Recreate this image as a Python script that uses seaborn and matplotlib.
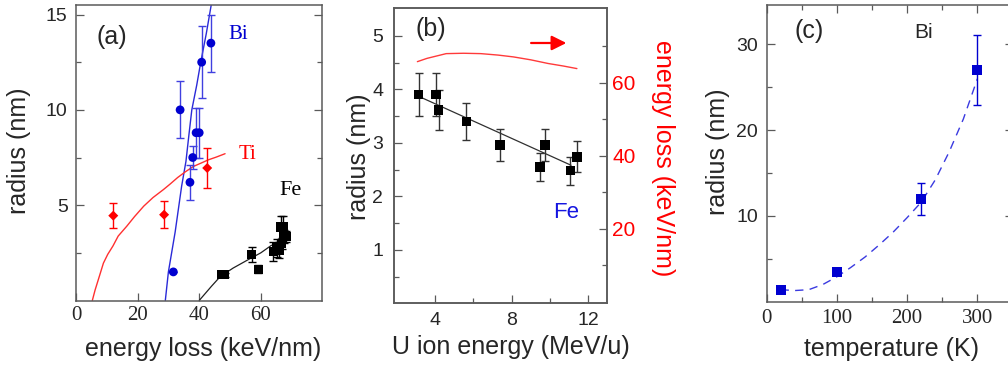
import matplotlib
matplotlib.use("Agg")
import matplotlib.pyplot as plt
import seaborn as sns

# ---------------- (a) track radius vs electronic energy loss ----------------
bi_loss = [31.6, 33.8, 37.0, 37.9, 39.0, 40.0, 40.8, 43.8]
bi_radius = [1.5, 10.0, 6.2, 7.5, 8.8, 8.8, 12.5, 13.5]
bi_err = [0.0, 1.5, 0.93, 0.6, 1.3, 1.3, 1.9, 1.5]
bi_fit_loss = [29.0, 30.0, 32.2, 34.3, 35.7, 36.6, 37.6, 39.2, 40.5, 42.3, 43.9]
bi_fit_radius = [0.0, 1.5, 3.6, 6.0, 7.3, 8.6, 10.0, 11.3, 12.5, 14.0, 15.5]

ti_loss = [12.1, 28.6, 42.6]
ti_radius = [4.45, 4.5, 6.95]
ti_err = [0.65, 0.7, 1.05]
ti_fit_loss = [5.3, 6.2, 7.2, 8.9, 10.3, 12.0, 13.7, 16.5, 19.0, 22.0, 25.0, 28.4,
               30.5, 33.0, 35.5, 38.1, 40.5, 43.0, 45.5, 48.4]
ti_fit_radius = [0.0, 0.55, 1.07, 1.96, 2.42, 2.86, 3.38, 3.9, 4.4, 4.95, 5.4, 5.82,
                 6.1, 6.45, 6.75, 7.03, 7.2, 7.38, 7.52, 7.7]

fe_loss = [47.2, 48.3, 57.0, 59.2, 64.1, 65.1, 66.0, 66.5, 67.2, 66.8, 67.5, 68.2]
fe_radius = [1.35, 1.35, 2.4, 1.64, 2.57, 2.75, 2.65, 3.85, 3.85, 3.0, 3.37, 3.35]
fe_err = [0.1, 0.1, 0.4, 0.2, 0.5, 0.45, 0.4, 0.6, 0.6, 0.3, 0.35, 0.3]
fe_fit_loss = [40.0, 44.0, 46.8, 51.0, 56.0, 60.0, 63.5]
fe_fit_radius = [0.0, 0.75, 1.25, 1.7, 2.15, 2.5, 2.9]

# ---------------- (b) Fe radius vs U ion energy ----------------
u_energy = [3.16, 4.08, 4.2, 5.65, 7.4, 9.48, 9.74, 11.06, 11.4]
fe_u_radius = [3.9, 3.9, 3.61, 3.4, 2.96, 2.55, 2.96, 2.48, 2.74]
fe_u_err = [0.4, 0.4, 0.37, 0.35, 0.3, 0.26, 0.3, 0.26, 0.29]
fe_u_fit_energy = [3.1, 11.1]
fe_u_fit_radius = [3.88, 2.58]
loss_energy = [3.1, 3.6, 4.6, 5.5, 6.4, 7.3, 8.1, 9.0, 9.9, 10.7, 11.4]
loss_value = [65.8, 66.7, 68.0, 68.1, 68.0, 67.6, 67.1, 66.3, 65.3, 64.6, 63.9]

# ---------------- (c) Bi radius vs irradiation temperature ----------------
temperature = [20, 100, 220, 300]
bi_t_radius = [1.4, 3.5, 12.0, 27.0]
bi_t_err = [0.0, 0.4, 1.85, 4.1]
bi_t_fit_temp = [20, 40, 60, 80, 100, 120, 140, 160, 180, 200, 220, 240, 260, 280, 300]
bi_t_fit_radius = [1.4, 1.3, 1.4, 2.0, 2.9, 4.0, 5.2, 6.6, 8.1, 9.8, 11.6, 14.2, 17.5, 21.3, 26.0]

sns.set_style("ticks")
plt.rcParams["font.family"] = ["Liberation Sans", "DejaVu Sans"]
plt.rcParams["xtick.direction"] = "in"
plt.rcParams["ytick.direction"] = "in"

SERIF = "Liberation Serif"
SPINE = "#5a5a5a"
BLUE = "#0000d0"
RED = "#ff0000"

W, H = 1008, 368
fig = plt.figure(figsize=(W / 100, H / 100), dpi=100)


def axes_px(left, top, right, bottom):
    return fig.add_axes([left / W, 1 - bottom / H, (right - left) / W, (bottom - top) / H])


def style_axes(ax):
    for s in ax.spines.values():
        s.set_color(SPINE)
        s.set_linewidth(1.1)
    ax.tick_params(which="major", length=6, width=0.9, color=SPINE, labelsize=14)
    ax.tick_params(which="minor", length=3.8, width=0.9, color=SPINE)


def place_labels(ax, xpos, ypos):
    fx, fy = xpos[0] / W, 1 - xpos[1] / H
    ax.xaxis.set_label_coords(fx, fy, transform=fig.transFigure)
    ax.xaxis.label.set_va("center")
    gx, gy = ypos[0] / W, 1 - ypos[1] / H
    ax.yaxis.set_label_coords(gx, gy, transform=fig.transFigure)
    ax.yaxis.label.set_va("center")


def err(ax, x, y, e, color):
    ax.errorbar(x, y, yerr=e, fmt="none", ecolor=color, elinewidth=1.0,
                capsize=3.2, capthick=1.0, zorder=2)


# ---------------- panel (a) ----------------
axA = axes_px(76, 5, 322.4, 300.5)
sns.lineplot(x=bi_fit_loss, y=bi_fit_radius, ax=axA, color="#2a2ad8", linewidth=1.0,
             sort=False, estimator=None)
sns.lineplot(x=ti_fit_loss, y=ti_fit_radius, ax=axA, color="#ff3030", linewidth=1.0,
             sort=False, estimator=None)
sns.lineplot(x=fe_fit_loss, y=fe_fit_radius, ax=axA, color="#202020", linewidth=0.9,
             sort=False, estimator=None)
err(axA, bi_loss, bi_radius, bi_err, "#4040e0")
err(axA, ti_loss, ti_radius, ti_err, RED)
err(axA, fe_loss, fe_radius, fe_err, "black")
sns.scatterplot(x=bi_loss, y=bi_radius, ax=axA, marker="o", s=40, color=BLUE,
                edgecolor="none", zorder=3)
sns.scatterplot(x=ti_loss, y=ti_radius, ax=axA, marker="D", s=26, color=RED,
                edgecolor="none", zorder=3)
sns.scatterplot(x=fe_loss, y=fe_radius, ax=axA, marker="s", s=44, color="black",
                edgecolor="none", zorder=3)
axA.set_xlim(0, 80)
axA.set_ylim(0, 15.5)
axA.set_xticks([0, 20, 40, 60])
axA.set_yticks([5, 10, 15])
axA.set_yticks([2.5, 7.5, 12.5], minor=True)
style_axes(axA)
axA.tick_params(axis="y", which="both", right=True, pad=6)
axA.tick_params(axis="x", labelfontfamily=SERIF, labelsize=15, pad=4)
axA.set_xlabel("energy loss (keV/nm)", fontsize=18)
axA.set_ylabel("radius (nm)", fontsize=18)
place_labels(axA, (203, 349), (19, 151))
axA.text(6.8, 13.8, "(a)", fontsize=18, ha="left", va="center")
axA.text(52.6, 13.96, "Bi", fontsize=15, family=SERIF, color=BLUE, ha="center", va="center")
axA.text(55.6, 7.65, "Ti", fontsize=15, family=SERIF, color=RED, ha="center", va="center")
axA.text(69.5, 5.77, "Fe", fontsize=16, family=SERIF, color="black", ha="center", va="center")

# ---------------- panel (b) ----------------
axB = axes_px(394.3, 8, 606.7, 303.3)
sns.lineplot(x=fe_u_fit_energy, y=fe_u_fit_radius, ax=axB, color="#303030", linewidth=0.9,
             sort=False, estimator=None)
err(axB, u_energy, fe_u_radius, fe_u_err, "#333333")
sns.scatterplot(x=u_energy, y=fe_u_radius, ax=axB, marker="s", s=48, color="black",
                edgecolor="none", zorder=3)
axB.set_xlim(1.9, 12.95)
axB.set_ylim(0, 5.52)
axB.set_xticks([4, 8, 12])
axB.set_xticks([6, 10], minor=True)
axB.set_yticks([1, 2, 3, 4, 5])
axB.set_yticks([0.5, 1.5, 2.5, 3.5, 4.5], minor=True)
style_axes(axB)
axB.tick_params(axis="y", pad=8)
axB.tick_params(axis="x", pad=6)
axB.set_xlabel("U ion energy (MeV/u)", fontsize=18)
axB.set_ylabel("radius (nm)", fontsize=18)
place_labels(axB, (511, 347), (359, 157))
axB.text(2.98, 5.13, "(b)", fontsize=18, ha="left", va="center")
axB.text(10.84, 1.69, "Fe", fontsize=16, color="#1515e0", ha="center", va="center")

axB2 = axB.twinx()
sns.lineplot(x=loss_energy, y=loss_value, ax=axB2, color="#ff3a3a", linewidth=1.0,
             sort=False, estimator=None)
axB2.set_ylim(-0.4, 80.5)
axB2.set_yticks([20, 40, 60])
axB2.set_yticks([10, 30, 50, 70], minor=True)
style_axes(axB2)
axB2.tick_params(axis="y", which="both", labelcolor=RED, pad=4)
axB2.tick_params(axis="y", labelsize=15)
axB2.set_ylabel("energy loss (keV/nm)", fontsize=18, color=RED, rotation=270)
axB2.yaxis.set_label_coords(663 / W, 1 - 158 / H, transform=fig.transFigure)
axB2.yaxis.label.set_va("center")
axB2.annotate("", xy=(0.81, 0.8815), xytext=(0.644, 0.8815),
              xycoords="axes fraction", textcoords="axes fraction",
              arrowprops=dict(arrowstyle="-|>", color=RED, lw=1.6, mutation_scale=22,
                              shrinkA=0, shrinkB=0))

# ---------------- panel (c) ----------------
axC = axes_px(766.5, 5, 766.5 + 350 * 0.703, 301.7)
sns.lineplot(x=bi_t_fit_temp, y=bi_t_fit_radius, ax=axC, color="#3a3ae0", linewidth=1.0,
             linestyle=(0, (6, 4.5)), sort=False, estimator=None)
err(axC, temperature, bi_t_radius, bi_t_err, BLUE)
sns.scatterplot(x=temperature, y=bi_t_radius, ax=axC, marker="s", s=52, color=BLUE,
                edgecolor="none", zorder=3)
axC.set_xlim(0, 350)
axC.set_ylim(0, 34.6)
axC.set_xticks([0, 100, 200, 300])
axC.set_xticks([50, 150, 250], minor=True)
axC.set_yticks([10, 20, 30])
axC.set_yticks([5, 15, 25], minor=True)
style_axes(axC)
axC.tick_params(which="both", top=True, right=True)
axC.tick_params(axis="y", pad=6)
axC.tick_params(axis="x", labelfontfamily=SERIF, labelsize=15, pad=5)
axC.set_xlabel("temperature (K)", fontsize=18)
axC.set_ylabel("radius (nm)", fontsize=18)
place_labels(axC, (891.5, 349), (717.5, 151.5))
axC.text(40.3, 31.55, "(c)", fontsize=18, ha="left", va="center")
axC.text(223.8, 31.4, "Bi", fontsize=15, ha="center", va="center")

fig.savefig("out.png", dpi=100)
